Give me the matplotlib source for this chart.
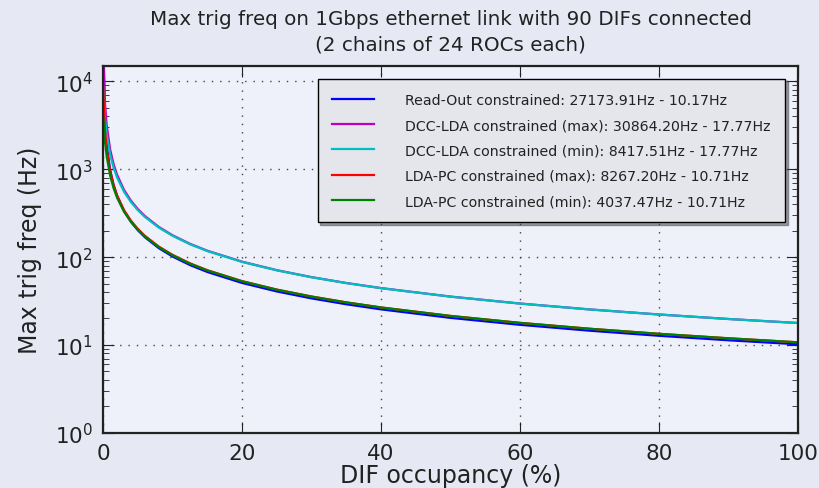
import matplotlib
matplotlib.use("Agg")
import matplotlib.pyplot as plt
import numpy as np

# DIF occupancy (%) at which each constraint was evaluated
occupancy = [0, 0.25, 0.5, 1, 1.5, 2, 3, 4, 5, 6, 8, 10, 12.5, 15, 20, 25,
             30, 35, 40, 50, 60, 70, 80, 90, 100]

# Maximum trigger frequency (Hz) for each constraint
readout = [27173.91, 3540, 1893, 980.7, 661.7, 499.3, 334.9, 252.0, 202.0,
           168.5, 126.6, 101.4, 81.15, 67.66, 50.77, 40.63, 33.87, 29.04,
           25.41, 20.33, 16.95, 14.53, 12.71, 11.30, 10.17]
dcc_lda_max = [30864.20, 5780, 3189, 1681, 1141, 864.1, 581.5, 438.2, 351.6,
               293.5, 220.7, 176.8, 141.6, 118.1, 88.64, 70.96, 59.15, 50.72,
               44.39, 35.52, 29.60, 25.38, 22.21, 19.74, 17.77]
dcc_lda_min = [8417.51, 3858, 2503, 1470, 1040, 805.2, 554.5, 422.8, 341.7,
               286.7, 216.9, 174.4, 140.1, 117.1, 88.11, 70.63, 58.94, 50.57,
               44.28, 35.46, 29.57, 25.36, 22.20, 19.74, 17.77]
lda_pc_max = [8267.20, 2824, 1703, 949.3, 658.0, 503.5, 342.6, 259.7, 209.1,
              174.9, 131.9, 105.9, 84.91, 70.88, 53.27, 42.67, 35.59, 30.53,
              26.72, 21.39, 17.83, 15.29, 13.38, 11.90, 10.71]
lda_pc_min = [4037.47, 2081, 1402, 848.2, 608.1, 473.9, 328.8, 251.7, 203.9,
              171.4, 129.9, 104.6, 84.12, 70.34, 52.99, 42.50, 35.48, 30.45,
              26.67, 21.36, 17.82, 15.28, 13.38, 11.90, 10.71]

series_names = ["Read-Out constrained",
                "DCC-LDA constrained (max)",
                "DCC-LDA constrained (min)",
                "LDA-PC constrained (max)",
                "LDA-PC constrained (min)"]
series_values = [readout, dcc_lda_max, dcc_lda_min, lda_pc_max, lda_pc_min]
series_colors = ["#0000ff", "#bf00bf", "#00bfbf", "#ff0000", "#008000"]

plt.rcParams["font.family"] = ["DejaVu Sans"]

fig = plt.figure(figsize=(8.19, 4.89), dpi=100, facecolor="#e6e9f4")
ax = fig.add_axes([0.126, 0.113, 0.848, 0.750], facecolor="#eef0fa")

for name, vals, col in zip(series_names, series_values, series_colors):
    label = f"{name}: {vals[0]:.2f}Hz - {vals[-1]:.2f}Hz"
    ax.plot(occupancy, vals, color=col, lw=1.6, label=label)

ax.set_yscale("log")
ax.set_xlim(0, 100)
ax.set_ylim(1, 1.5e4)
ax.set_xticks([0, 20, 40, 60, 80, 100])

ax.grid(True, which="major", color="#444444", linestyle=(0, (1, 5)),
        linewidth=1.0)
ax.tick_params(which="both", direction="in", top=True, right=True,
               labelsize=15.5, colors="#222222")
ax.tick_params(which="major", length=8, width=0.8, pad=7.5)
ax.tick_params(which="minor", length=4, width=0.6)
for sp in ax.spines.values():
    sp.set_linewidth(1.6)
    sp.set_color("#222222")

ax.set_xlabel("DIF occupancy (%)", fontsize=17, color="#222222", labelpad=0)
ax.set_ylabel("Max trig freq (Hz)", fontsize=17, color="#222222", labelpad=9)
ax.set_title("Max trig freq on 1Gbps ethernet link with 90 DIFs connected\n"
             "(2 chains of 24 ROCs each)", fontsize=14.3, color="#222222",
             pad=12, linespacing=1.45)

leg = ax.legend(loc="upper right", bbox_to_anchor=(0.992, 0.985), fontsize=10.2,
                handlelength=3.0, handletextpad=2.2, borderpad=1.0,
                labelspacing=0.8, fancybox=False, shadow=True, framealpha=1.0)
leg.get_frame().set_facecolor("#e5e6ec")
leg.get_frame().set_edgecolor("black")
leg.get_frame().set_linewidth(1.0)
for t in leg.get_texts():
    t.set_color("#222222")

fig.savefig("out.png", dpi=100, facecolor=fig.get_facecolor())
